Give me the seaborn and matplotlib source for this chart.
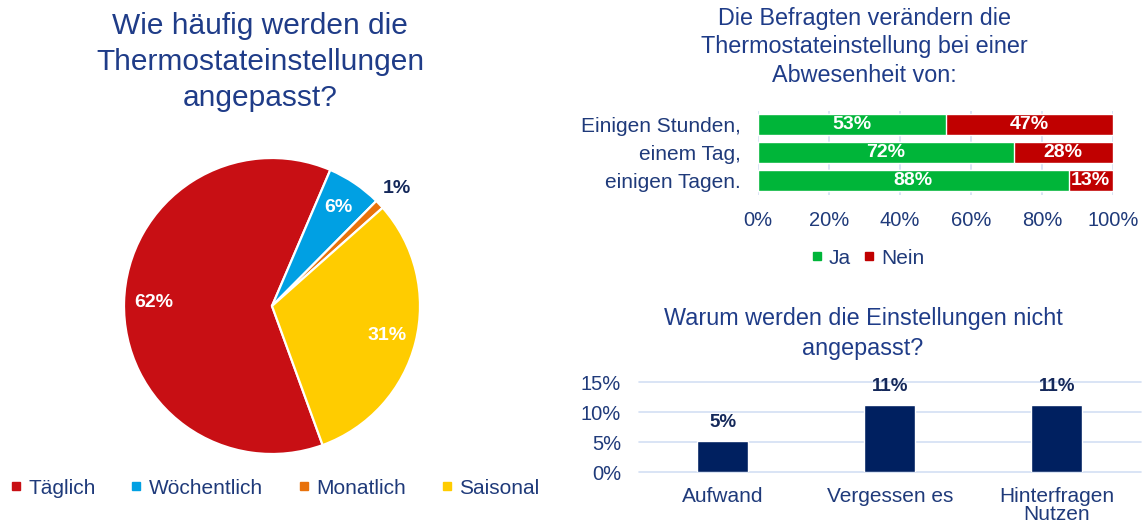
import matplotlib
matplotlib.use("Agg")
import matplotlib.pyplot as plt
import seaborn as sns
import pandas as pd
import numpy as np
from matplotlib.lines import Line2D

# ---------------- data ----------------
pie_labels = ["Täglich", "Wöchentlich", "Monatlich", "Saisonal"]
pie_values = [62, 6, 1, 31]
pie_colors = ["#C80F14", "#00A0E3", "#E8720C", "#FFCC00"]

abs_cats = ["Einigen Stunden,", "einem Tag,", "einigen Tagen."]
abs_ja = [53, 72, 87.5]
abs_nein = [47, 28, 12.5]
abs_series = ["Ja", "Nein"]
abs_colors = ["#00B539", "#C00000"]
abs_ticks = [0, 20, 40, 60, 80, 100]

why_cats = ["Aufwand", "Vergessen es", "Hinterfragen\nNutzen"]
why_vals = [5.2, 11.2, 11.2]
why_ticks = [0, 5, 10, 15]

title_pie = ["Wie häufig werden die", "Thermostateinstellungen", "angepasst?"]
title_abs = ["Die Befragten verändern die", "Thermostateinstellung bei einer", "Abwesenheit von:"]
title_why = ["Warum werden die Einstellungen nicht", "angepasst?"]

# ---------------- style ----------------
sns.set_theme(style="white")
plt.rcParams["font.family"] = ["Liberation Sans", "DejaVu Sans"]

TITLE_C = "#1F3C88"
TEXT_C = "#1F3A7A"
NAVY = "#002060"
LABEL_NAVY = "#14285A"
GRID_C = "#D3DFF3"

W, H = 1144, 528
fig = plt.figure(figsize=(W / 100, H / 100), dpi=100)
fig.patch.set_facecolor("white")


def rect(x0, y0, x1, y1):
    return [x0 / W, 1 - y1 / H, (x1 - x0) / W, (y1 - y0) / H]


def ftext(x, y, s, **kw):
    fig.text(x / W, 1 - y / H, s, ha="center", va="center", **kw)


# ---------------- pie ----------------
ax1 = fig.add_axes(rect(124, 158, 420, 454))
wedges, texts, autotexts = ax1.pie(
    pie_values, colors=pie_colors, startangle=-70, counterclock=False,
    autopct=lambda p: f"{p:.0f}%", pctdistance=0.8,
    wedgeprops=dict(edgecolor="white", linewidth=1.6),
    textprops=dict(color="white", fontsize=14, fontweight="bold"))
w = wedges[2]
mid = np.deg2rad((w.theta1 + w.theta2) / 2)
autotexts[2].set_position((1.16 * np.cos(mid), 1.16 * np.sin(mid)))
autotexts[2].set_color(LABEL_NAVY)
ax1.set_xlim(-1, 1)
ax1.set_ylim(-1, 1)
ax1.set_aspect("equal")

for line, yy in zip(title_pie, [25.5, 61.5, 98]):
    ftext(260, yy, line, fontsize=21.5, color=TITLE_C)

handles = [Line2D([], [], marker="s", linestyle="none", color=c, markersize=6) for c in pie_colors]
fig.legend(handles, pie_labels, loc="center", bbox_to_anchor=(275 / W, 1 - 488 / H),
           ncol=4, frameon=False, fontsize=15, handlelength=0.5, handletextpad=0.35,
           columnspacing=1.7, labelcolor=TEXT_C)

# ---------------- stacked horizontal bars ----------------
ax2 = fig.add_axes(rect(757.7, 110.5, 1113, 194.5))
total = [a + b for a, b in zip(abs_ja, abs_nein)]
sns.barplot(x=total, y=abs_cats, orient="h", color=abs_colors[1], width=0.73,
            saturation=1, ax=ax2, zorder=2)
sns.barplot(x=abs_ja, y=abs_cats, orient="h", color=abs_colors[0], width=0.73,
            saturation=1, ax=ax2, zorder=3)
for i, (a, b) in enumerate(zip(abs_ja, abs_nein)):
    ax2.text(a / 2, i, f"{int(a + 0.5)}%", ha="center", va="center", color="white",
             fontsize=14, fontweight="bold", zorder=4)
    ax2.text(a + b / 2, i, f"{int(b + 0.5)}%", ha="center", va="center", color="white",
             fontsize=14, fontweight="bold", zorder=4)
ax2.set_xlim(0, 100)
ax2.set_xticks(abs_ticks)
ax2.set_xticklabels([f"{t}%" for t in abs_ticks])
ax2.grid(axis="x", color=GRID_C, linewidth=1.2, zorder=0)
ax2.set_axisbelow(True)
ax2.tick_params(axis="x", length=0, pad=12, labelsize=14.5, labelcolor=TEXT_C)
ax2.tick_params(axis="y", length=0, pad=12, labelsize=15, labelcolor=TEXT_C)
ax2.set_xlabel("")
ax2.set_ylabel("")
for s in ax2.spines.values():
    s.set_visible(False)

for line, yy in zip(title_abs, [19, 47, 75]):
    ftext(864, yy, line, fontsize=16.8, color=TITLE_C)

h2 = [Line2D([], [], marker="s", linestyle="none", color=c, markersize=6) for c in abs_colors]
fig.legend(h2, abs_series, loc="center", bbox_to_anchor=(868 / W, 1 - 258 / H),
           ncol=2, frameon=False, fontsize=15, handlelength=0.5, handletextpad=0.35,
           columnspacing=0.6, labelcolor=TEXT_C)

# ---------------- vertical bars ----------------
ax3 = fig.add_axes(rect(639, 382, 1140.5, 472))
sns.barplot(x=why_cats, y=why_vals, color=NAVY, width=0.305, saturation=1, ax=ax3, zorder=3)
ax3.bar_label(ax3.containers[0], labels=[f"{int(v + 0.5)}%" for v in why_vals],
              padding=7, fontsize=13.5, fontweight="bold", color=LABEL_NAVY)
ax3.set_xlim(-0.5, 2.5)
ax3.set_ylim(0, 15)
ax3.set_yticks(why_ticks)
ax3.set_yticklabels([f"{t}%" for t in why_ticks])
ax3.grid(axis="y", color=GRID_C, linewidth=1.2, zorder=0)
ax3.set_axisbelow(True)
ax3.tick_params(axis="y", length=0, pad=13, labelsize=14.5, labelcolor=TEXT_C)
ax3.tick_params(axis="x", length=0, pad=11, labelsize=15, labelcolor=TEXT_C)
for t in ax3.get_xticklabels():
    t.set_linespacing(0.92)
ax3.set_xlabel("")
ax3.set_ylabel("")
for s in ax3.spines.values():
    s.set_visible(False)
for gl in ax3.get_ygridlines():
    gl.set_clip_on(False)

for line, yy in zip(title_why, [319, 348]):
    ftext(863, yy, line, fontsize=16.8, color=TITLE_C)

fig.savefig("out.png", dpi=100, facecolor="white")
